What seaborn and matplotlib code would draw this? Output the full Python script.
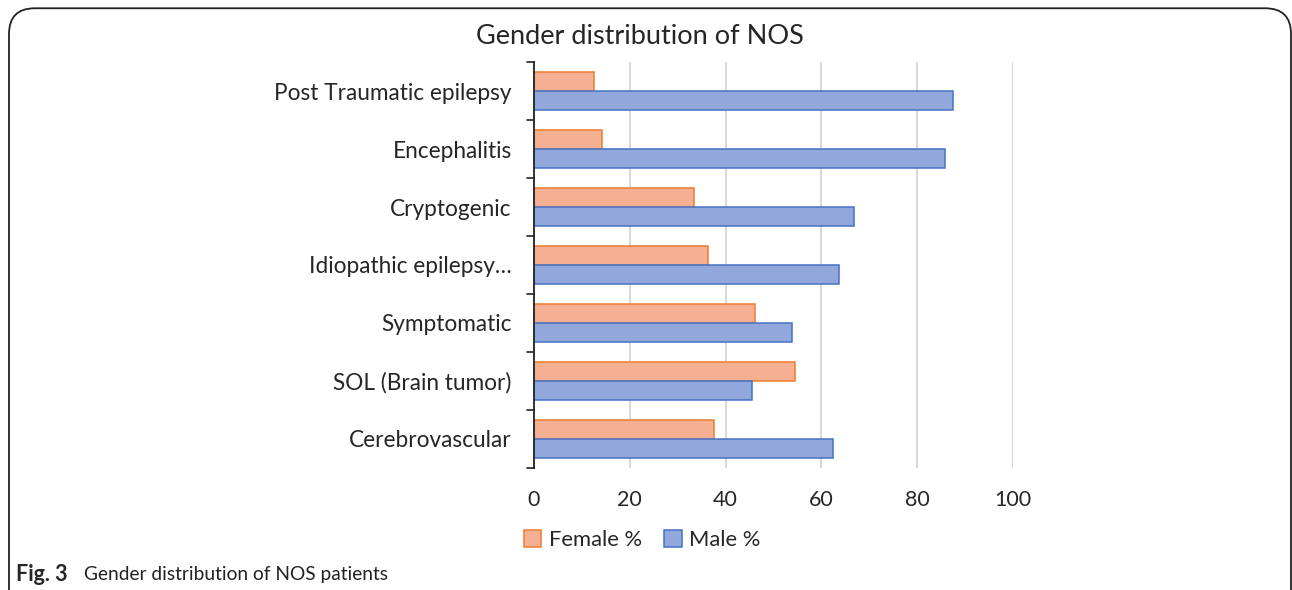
import pandas as pd
import numpy as np
import matplotlib.pyplot as plt
import seaborn as sns
from matplotlib.patches import FancyBboxPatch, Patch

# data
categories = ["Post Traumatic epilepsy", "Encephalitis", "Cryptogenic",
              "Idiopathic epilepsy…", "Symptomatic", "SOL (Brain tumor)",
              "Cerebrovascular"]
female_pct = [12.5, 14.3, 33.3, 36.4, 46.2, 54.5, 37.5]
male_pct = [87.5, 85.7, 66.7, 63.6, 53.8, 45.5, 62.5]
x_ticks = [0, 20, 40, 60, 80, 100]

df = pd.DataFrame({
    "category": categories * 2,
    "pct": female_pct + male_pct,
    "gender": ["Female %"] * len(categories) + ["Male %"] * len(categories),
})

sns.set_theme(style="white")
plt.rcParams["font.family"] = ["Lato", "DejaVu Sans"]

fill_colors = {"Female %": "#F5B093", "Male %": "#92A7DC"}
edge_colors = {"Female %": "#ED7D31", "Male %": "#4472C4"}

fig = plt.figure(figsize=(12.92, 5.90), dpi=100)
ax = fig.add_axes([0.4133, 0.2068, 0.3708, 0.6881])

sns.barplot(data=df, x="pct", y="category", hue="gender",
            order=categories, hue_order=["Female %", "Male %"],
            palette=fill_colors, width=0.67, orient="h", ax=ax,
            legend=False, saturation=1)

# edge colours per hue
for container, g in zip(ax.containers, ["Female %", "Male %"]):
    for bar in container:
        bar.set_edgecolor(edge_colors[g])
        bar.set_linewidth(1.1)

ax.set_xlim(0, 100)
ax.set_ylim(len(categories) - 0.5, -0.5)
ax.set_xticks(x_ticks)
ax.set_xticklabels([str(t) for t in x_ticks], fontsize=15.5)
ax.tick_params(axis="x", length=0, pad=16)

# category labels and boundary ticks
ax.set_yticks(np.arange(len(categories)))
ax.set_yticklabels(categories, fontsize=16.3)
ax.tick_params(axis="y", length=0, pad=16)
for b in np.arange(len(categories) + 1) - 0.5:
    ax.plot([-1.5, 0], [b, b], color="#222222", lw=1.2, clip_on=False)

ax.set_xlabel("")
ax.set_ylabel("")
for t in x_ticks[1:]:
    ax.axvline(t, color="#D9D9D9", lw=1.5, zorder=0)
ax.set_axisbelow(True)

for side in ["top", "right", "bottom"]:
    ax.spines[side].set_visible(False)
ax.spines["left"].set_color("#222222")
ax.spines["left"].set_linewidth(1.3)

fig.text(0.495, 0.938, "Gender distribution of NOS", ha="center",
         va="center", fontsize=19.5)

handles = [Patch(facecolor=fill_colors[g], edgecolor=edge_colors[g], lw=1.1,
                 label=g) for g in ["Female %", "Male %"]]
fig.legend(handles=handles, loc="center", bbox_to_anchor=(0.497, 0.085),
           ncol=2, frameon=False, fontsize=15.8, handlelength=0.8,
           handleheight=0.8, handletextpad=0.35, columnspacing=1.0)

# caption
fig.text(0.012, 0.026, "Fig. 3", fontsize=15.5, fontweight="bold",
         ha="left", va="center")
fig.text(0.065, 0.026, "Gender distribution of NOS patients", fontsize=13.8,
         ha="left", va="center", color="#222222")

# rounded frame, open at the bottom
frame = FancyBboxPatch((9 / 1292, -0.2), (1282 / 1292), 1.186,
                       boxstyle="round,pad=0,rounding_size=0.02",
                       transform=fig.transFigure, fill=False,
                       edgecolor="#222222", lw=1.3, clip_on=False,
                       mutation_aspect=1292 / 590)
fig.patches.append(frame)

fig.savefig("out.png", dpi=100)
